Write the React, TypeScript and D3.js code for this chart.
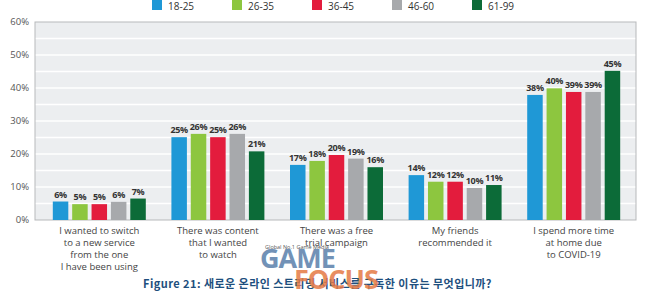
import React from "react";
import * as d3 from "d3";

const categories: string[][] = [
  ["I wanted to switch", "to a new service", "from the one", "I have been using"],
  ["There was content", "that I wanted", "to watch"],
  ["There was a free", "trial campaign"],
  ["My friends", "recommended it"],
  ["I spend more time", "at home due", "to COVID-19"],
];
const seriesNames = ["18-25", "26-35", "36-45", "46-60", "61-99"];
const seriesColors = ["#1f98d6", "#8dc63f", "#e31c3d", "#a7a9ac", "#0c6b38"];
const s18_25 = [5.6, 25.1, 16.7, 13.6, 37.9];
const s26_35 = [4.8, 26.1, 17.9, 11.6, 39.9];
const s36_45 = [4.8, 25.1, 19.7, 11.6, 38.8];
const s46_60 = [5.5, 26.1, 18.6, 9.7, 38.8];
const s61_99 = [6.5, 20.8, 16.0, 10.6, 45.2];
const seriesValues = [s18_25, s26_35, s36_45, s46_60, s61_99];
const yTicks = [0, 10, 20, 30, 40, 50, 60];
const gridValues = [5, 10, 15, 20, 25, 30, 35, 40, 45, 50, 55];
const caption = "Figure 21:  새로운 온라인 스트리밍 서비스를 구독한 이유는 무엇입니까?";

const W = 660;
const H = 305;
const FONT = "'Open Sans', 'Noto Sans', sans-serif";

export default function App() {
  const plotL = 35, plotR = 636, plotT = 22, plotB = 220;
  const x0 = d3
    .scaleBand<number>()
    .domain(categories.map((_, i) => i))
    .range([40, 633])
    .paddingInner(0.216)
    .paddingOuter(0.108);
  const x1 = d3
    .scaleBand<number>()
    .domain(seriesNames.map((_, i) => i))
    .range([0, x0.bandwidth()])
    .paddingInner(0.2)
    .paddingOuter(0);
  const y = d3.scaleLinear().domain([0, 60]).range([plotB, plotT]);

  return (
    <svg
      width={W}
      height={H}
      style={{ position: "absolute", left: 0, top: 0, background: "#fff" }}
      fontFamily={FONT}
    >
      {/* plot background */}
      <rect x={plotL} y={plotT} width={plotR - plotL} height={plotB - plotT} fill="#eceef0" />
      {gridValues.map((g) => (
        <line key={g} x1={plotL} x2={plotR} y1={y(g)} y2={y(g)} stroke="#ffffff" strokeWidth={1.3} />
      ))}
      <rect
        x={plotL}
        y={plotT}
        width={plotR - plotL}
        height={plotB - plotT}
        fill="none"
        stroke="#b7b9bb"
        strokeWidth={1}
      />
      {/* y ticks */}
      {yTicks.map((t) => (
        <text key={t} x={29} y={y(t)} dy="0.35em" textAnchor="end" fontSize={9.5} fill="#555">
          {t}%
        </text>
      ))}
      {/* legend */}
      {seriesNames.map((s, i) => (
        <g key={s} transform={`translate(${152 + i * 80},0)`}>
          <rect x={0} y={0} width={10} height={10} fill={seriesColors[i]} />
          <text x={16} y={10} fontSize={10} fill="#333">
            {s}
          </text>
        </g>
      ))}
      {/* bars */}
      {categories.map((_, ci) => (
        <g key={ci} transform={`translate(${x0(ci)},0)`}>
          {seriesValues.map((vals, si) => {
            const v = vals[ci];
            const bx = x1(si)!;
            return (
              <g key={si}>
                <rect
                  x={bx}
                  y={y(v)}
                  width={x1.bandwidth()}
                  height={y(0) - y(v)}
                  fill={seriesColors[si]}
                />
                <text
                  x={bx + x1.bandwidth() / 2}
                  y={y(v) - 4}
                  textAnchor="middle"
                  fontSize={9}
                  fontWeight="bold"
                  fill="#333"
                  letterSpacing={-0.3}
                >
                  {Math.round(v)}%
                </text>
              </g>
            );
          })}
        </g>
      ))}
      {/* category labels */}
      {categories.map((lines, ci) => (
        <text
          key={ci}
          x={x0(ci)! + x0.bandwidth() / 2}
          textAnchor="middle"
          fontSize={9.5}
          fill="#444"
        >
          {lines.map((l, li) => (
            <tspan key={li} x={x0(ci)! + x0.bandwidth() / 2} y={234 + li * 12}>
              {l}
            </tspan>
          ))}
        </text>
      ))}
      {/* caption */}
      <text x={143} y={288} fontSize={11} fontWeight="bold" fill="#1e4f7e" letterSpacing={0.45}
        fontFamily="'Noto Sans CJK KR', 'Noto Sans', sans-serif">
        {caption}
      </text>
      {/* watermark */}
      <text x={265} y={249} fontSize={5.5} fill="#555" fontFamily={FONT}>
        Global No.1 Game Media
      </text>
      <text x={260} y={268} fontSize={27} fontWeight="bold" fill="#5a7fab" opacity={0.85}
        fontFamily="'Open Sans', sans-serif" letterSpacing={-1}>
        GAME
      </text>
      <text x={294} y={289} fontSize={27} fontWeight="bold" fill="#e57a45" opacity={0.85}
        fontFamily="'Open Sans', sans-serif" letterSpacing={-1}>
        FOCUS
      </text>
    </svg>
  );
}
